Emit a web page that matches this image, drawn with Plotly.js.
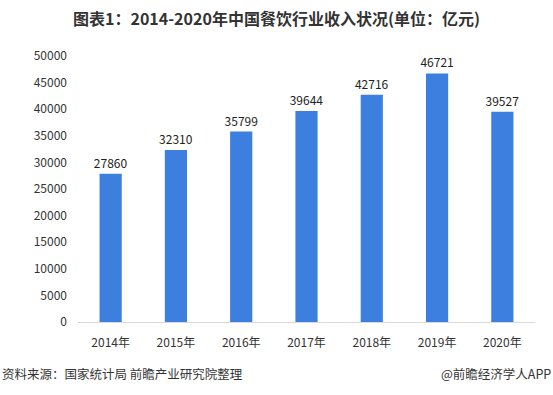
<!DOCTYPE html>
<html><head><meta charset="utf-8">
<script src="https://cdn.plot.ly/plotly-3.0.1.min.js"></script>
<style>html,body{margin:0;padding:0;background:#fff;}#c{width:553px;height:395px;}</style>
</head><body><div id="c"></div>
<script>
const categories = ["2014年","2015年","2016年","2017年","2018年","2019年","2020年"];
const values = [27860, 32310, 35799, 39644, 42716, 46721, 39527];
const yTicks = [0,5000,10000,15000,20000,25000,30000,35000,40000,45000,50000];
const font = "'Microsoft YaHei','Noto Sans CJK SC',sans-serif";
Plotly.newPlot('c', [{
  type:'bar', x:categories, y:values,
  marker:{color:'#3D7FDF'},
  text:values.map(String), textposition:'outside', cliponaxis:false, constraintext:'none',
  textfont:{size:12,color:'#222',family:font}
}], {
  width:553, height:395,
  margin:{l:78,r:18,t:56,b:73},
  bargap:0.66,
  paper_bgcolor:'#fff', plot_bgcolor:'#fff',
  title:{text:'<b>图表1：2014-2020年中国餐饮行业收入状况(单位：亿元)</b>', x:0.5, xanchor:'center', y:0.95, yanchor:'middle', font:{size:16,color:'#333',family:font}},
  xaxis:{showline:true, linecolor:'#d9d9d9', linewidth:1, ticks:'', ticklabelstandoff:10, tickfont:{size:12,color:'#333',family:font}, fixedrange:true},
  yaxis:{range:[0,50000], tickvals:yTicks, ticktext:yTicks.map(String), showgrid:false, zeroline:false, showline:false, ticks:'', ticklen:0, ticklabelstandoff:10, tickfont:{size:12,color:'#333',family:font}, fixedrange:true},
  showlegend:false,
  annotations:[
    {text:'资料来源：国家统计局 前瞻产业研究院整理', xref:'paper', yref:'paper', x:-78/457, y:-51/266, xanchor:'left', yanchor:'middle', showarrow:false, font:{size:12.5,color:'#333',family:font}},
    {text:'@前瞻经济学人APP', xref:'paper', yref:'paper', x:(553-78)/457, y:-51/266, xanchor:'right', yanchor:'middle', showarrow:false, font:{size:12.5,color:'#333',family:font}}
  ]
}, {staticPlot:true});
</script></body></html>
